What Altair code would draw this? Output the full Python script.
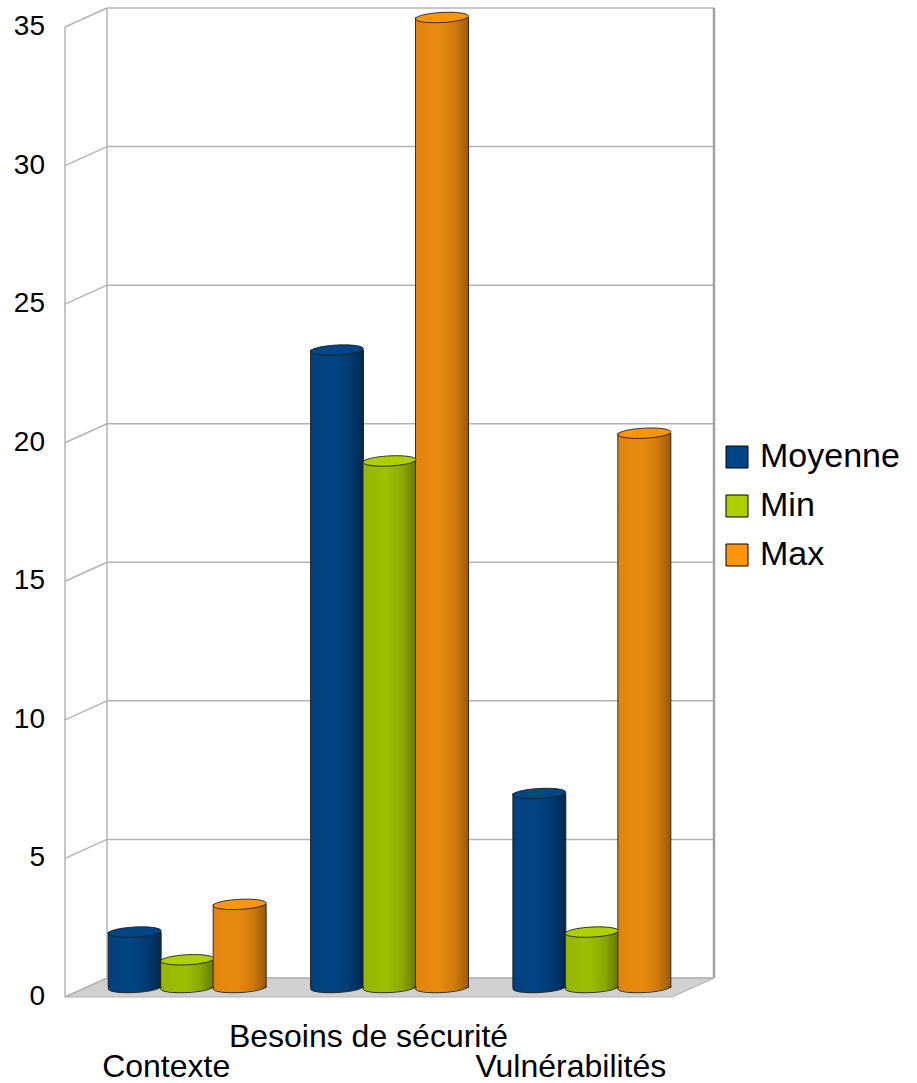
import altair as alt
import pandas as pd

# ---------------- data ----------------
categories = ["Contexte", "Besoins de sécurité", "Vulnérabilités"]
series_names = ["Moyenne", "Min", "Max"]
moyenne = [2, 23, 7]
minimum = [1, 19, 2]
maximum = [3, 35, 20]
legend_colors = ["#004586", "#aecf00", "#ff950e"]
y_ticks = [0, 5, 10, 15, 20, 25, 30, 35]

# ---------------- layout constants ----------------
W, H = 607, 970
DX, DY = 42, 19            # pseudo-3D depth in px
STEP = W / 3
UNIT = H / 35
dxu = DX / STEP
dyu = DY / UNIT
BAR_PX = 53
bar_u = 52.5 / STEP
FONT = "Liberation Sans"
GRID = "#b3b3b3"

gradients = {
    "Moyenne": [("#00417c", 0), ("#004585", 0.45), ("#003a70", 0.75), ("#00284e", 1)],
    "Min": [("#96b500", 0), ("#9ebf00", 0.45), ("#8aa800", 0.75), ("#647a00", 1)],
    "Max": [("#e2830e", 0), ("#e98a10", 0.45), ("#d07a0c", 0.75), ("#9a5a08", 1)],
}


def grad(name):
    return alt.Gradient(
        gradient="linear",
        stops=[alt.GradientStop(color=c, offset=o) for c, o in gradients[name]],
        x1=0, x2=1, y1=0, y2=0,
    )


rows = []
for i, c in enumerate(categories):
    for j, (s, vals) in enumerate(zip(series_names, [moyenne, minimum, maximum])):
        rows.append(dict(cat=c, idx=i, series=s, sidx=j, value=vals[i]))
bars_df = pd.DataFrame(rows)

xscale = alt.Scale(domain=[-0.5, 2.5], nice=False, zero=False, padding=0)
yscale = alt.Scale(domain=[0, 35], nice=False, zero=False, padding=0)

NOX = dict(scale=xscale, axis=None)
NOY = dict(scale=yscale, axis=None)

# ---------------- floor ----------------
floor_df = pd.DataFrame({"k": [0, 1, 2, 3]})
floor = alt.Chart(floor_df).transform_calculate(
    fx=f"[-0.5, -0.5 + {dxu}, 2.5, 2.5 + {dxu}][datum.k]",
    fy=f"[0, {dyu}, {dyu}, {dyu}][datum.k]",
    fy2=f"[0, 0, 0, {dyu}][datum.k]",
).mark_area(fill="#d0d0d0", stroke=GRID, strokeWidth=1.2, opacity=1, fillOpacity=1).encode(
    x=alt.X("fx:Q", **NOX),
    y=alt.Y("fy:Q", stack=None, **NOY),
    y2="fy2:Q",
)

grid_base = alt.Chart(pd.DataFrame({"v": y_ticks}))

back_lines = grid_base.transform_calculate(
    gx=f"-0.5 + {dxu}", gx2=f"2.5 + {dxu}", gy=f"datum.v + {dyu}"
).mark_rule(color=GRID, strokeWidth=1.5).encode(
    x=alt.X("gx:Q", **NOX), x2="gx2:Q", y=alt.Y("gy:Q", **NOY), y2="gy:Q"
)

side_lines = grid_base.transform_calculate(
    gx="-0.5", gx2=f"-0.5 + {dxu}", gy2=f"datum.v + {dyu}"
).mark_rule(color=GRID, strokeWidth=1.5).encode(
    x=alt.X("gx:Q", **NOX), x2="gx2:Q", y=alt.Y("v:Q", **NOY), y2="gy2:Q"
)

tick_labels = grid_base.mark_text(
    font=FONT, fontSize=28, color="black", align="right", baseline="middle", dx=-20
).encode(x=alt.value(0), y=alt.Y("v:Q", **NOY), text="v:Q")

vert_df = pd.DataFrame({"k": [0, 1, 2]})
verticals = alt.Chart(vert_df).transform_calculate(
    vx=f"[-0.5, -0.5 + {dxu}, 2.5 + {dxu}][datum.k]",
    vy=f"[0, {dyu}, {dyu}][datum.k]",
    vy2=f"[35, 35 + {dyu}, 35 + {dyu}][datum.k]",
    vw="datum.k == 2 ? 2.5 : 1.5",
).mark_rule(color=GRID).encode(
    x=alt.X("vx:Q", **NOX), y=alt.Y("vy:Q", **NOY), y2="vy2:Q",
    strokeWidth=alt.StrokeWidth("vw:Q", scale=None, legend=None),
    color=alt.condition("datum.k == 2", alt.value("#a0a0a0"), alt.value(GRID)),
)

# ---------------- cylinders ----------------
ELLIPSE = "M -1 0 A 1 0.19 0 1 1 1 0 A 1 0.19 0 1 1 -1 0 Z"
OFFX, OFFY = DX / 2, -DY / 2
base_bars = alt.Chart(bars_df).transform_calculate(
    pos=f"datum.idx + (datum.sidx - 1) * {bar_u}", zero="0"
)

cyl_layers = []
for s in series_names:
    b = base_bars.transform_filter(alt.datum.series == s)
    bottom_stroke = b.mark_point(
        shape=ELLIPSE, size=BAR_PX ** 2, filled=True, fill=grad(s), stroke="#1f1f1f",
        strokeWidth=0.9, opacity=1, xOffset=OFFX, yOffset=OFFY, angle=357,
    ).encode(x=alt.X("pos:Q", **NOX), y=alt.Y("zero:Q", **NOY))
    body = b.mark_bar(
        fill=grad(s), stroke="#1f1f1f", strokeWidth=0.9, width=BAR_PX,
        xOffset=OFFX, x2Offset=OFFX, yOffset=OFFY, y2Offset=OFFY, opacity=1,
    ).encode(
        x=alt.X("pos:Q", **NOX),
        y=alt.Y("value:Q", stack=None, **NOY),
        y2="zero:Q",
    )
    bottom_fill = b.mark_point(
        shape=ELLIPSE, size=(BAR_PX - 1.5) ** 2, filled=True, fill=grad(s), strokeWidth=0,
        opacity=1, xOffset=OFFX, yOffset=OFFY - 0.5, angle=357,
    ).encode(x=alt.X("pos:Q", **NOX), y=alt.Y("zero:Q", **NOY))
    cyl_layers += [bottom_stroke, body, bottom_fill]

caps = base_bars.mark_point(
    shape=ELLIPSE, size=BAR_PX ** 2, filled=True, stroke="#1f1f1f", strokeWidth=0.9,
    opacity=1, xOffset=OFFX, yOffset=OFFY, angle=357,
).encode(
    x=alt.X("pos:Q", **NOX),
    y=alt.Y("value:Q", **NOY),
    color=alt.Color(
        "series:N",
        scale=alt.Scale(domain=series_names, range=legend_colors),
        legend=alt.Legend(
            title=None, orient="none", legendX=655, legendY=413, symbolType="square",
            symbolSize=484, symbolStrokeColor="black", symbolStrokeWidth=1,
            symbolOpacity=1, labelFontSize=34, labelFont=FONT, labelColor="black",
            rowPadding=15, labelOffset=6, padding=0,
        ),
    ),
)

# ---------------- category labels ----------------
cat_df = pd.DataFrame({"cat": categories, "idx": list(range(len(categories)))})
cat_base = alt.Chart(cat_df)
labels_low = cat_base.transform_filter("datum.idx % 2 == 0").mark_text(
    font=FONT, fontSize=32, color="black", baseline="alphabetic", align="center"
).encode(x=alt.X("idx:Q", **NOX), y=alt.value(1050), text="cat:N")
labels_high = cat_base.transform_filter("datum.idx % 2 == 1").mark_text(
    font=FONT, fontSize=32, color="black", baseline="alphabetic", align="center"
).encode(x=alt.X("idx:Q", **NOX), y=alt.value(1020), text="cat:N")

chart = alt.layer(
    floor, back_lines, side_lines, verticals, tick_labels, *cyl_layers, caps,
    labels_low, labels_high
).properties(
    width=W,
    height=H,
    autosize=alt.AutoSizeParams(type="none"),
    padding={"left": 65, "top": 27, "right": 917 - 65 - W, "bottom": 1083 - 27 - H},
    background="white",
).configure_view(stroke=None)

chart.save("out.html", embed_options={"renderer": "svg", "actions": False})
